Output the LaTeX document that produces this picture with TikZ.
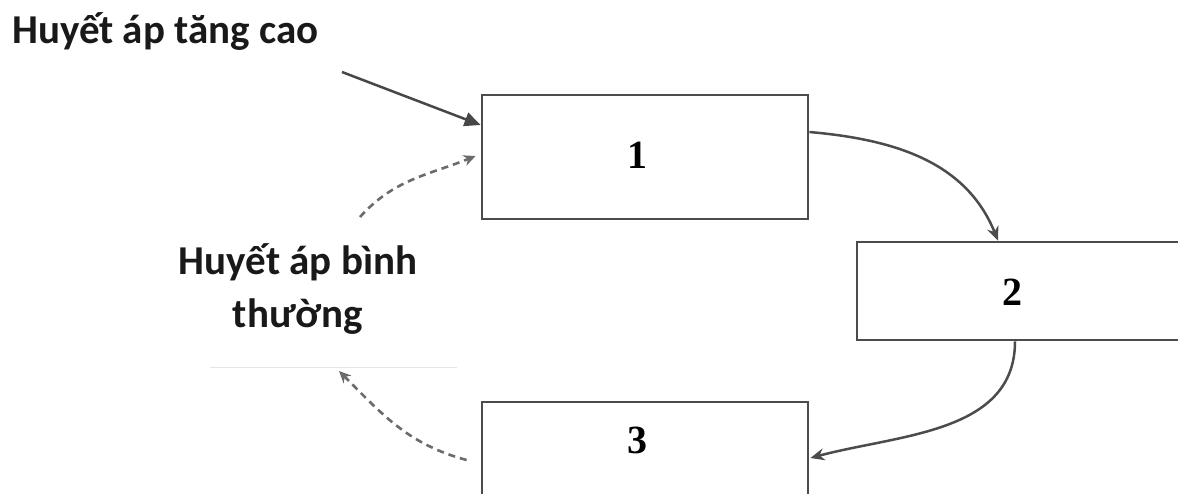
\documentclass[tikz,border=0pt]{standalone}
\usepackage{fontspec}
\setmainfont{Carlito}
\newfontfamily\numfont{Liberation Serif}
\usetikzlibrary{arrows.meta}
\tikzset{
  box/.style={draw=black!70, line width=2.8pt, fill=white, inner sep=0pt},
  num/.style={font=\numfont\bfseries\fontsize{40}{40}\selectfont, inner sep=0pt, anchor=base},
  lbl/.style={font=\bfseries\fontsize{41}{41}\selectfont, inner sep=0pt, anchor=base, text=black!90},
  flow/.style={draw=black!70, line width=2.5pt, -{Stealth[length=14pt,width=12pt]}},
  feed/.style={draw=black!58, line width=2.6pt, dash pattern=on 7pt off 5pt, -{Stealth[length=12pt,width=11pt]}},
  push/.style={draw=black!72, line width=2.5pt, -{Triangle[length=16pt,width=14pt]}}
}
\begin{document}
\begin{tikzpicture}[x=1pt,y=-1pt]
\useasboundingbox (0,0) rectangle (1178,493);
\clip (0,0) rectangle (1178,493);
\fill[white] (0,0) rectangle (1178,493);

% the three stages
\node[box, minimum width=326pt, minimum height=124pt] (b1) at (645,157) {};
\node[box, minimum width=333pt, minimum height=98pt] (b2) at (1023.5,291) {};
\node[box, minimum width=326pt, minimum height=103pt] (b3) at (645,453.5) {};
\node[num] (n1) at (637,168) {1};
\node[num] (n2) at (1012,305) {2};
\node[num] (n3) at (637,453) {3};

% labels
\node[lbl, anchor=base west] (hi) at (12,43) {Huyết áp tăng cao};
\node[lbl] (nm1) at (298,274) {Huyết áp bình};
\node[lbl] (nm2) at (298,327) {thường};
\draw[black!10, line width=1pt] (210,367) coordinate (ul) -- (457,367) coordinate (ur);

% connectors
\coordinate (src) at (342,72);
\draw[push] (src) -- ([yshift=32pt]b1.west);
\draw[flow] ([yshift=25pt]b1.east) to[out=-5, in=112] ([xshift=-25.5pt]b2.north);
\draw[flow] ([xshift=-8.5pt]b2.south) to[out=-90, in=15] ([yshift=-4.5pt,xshift=1pt]b3.east);

\coordinate (dtop) at (360,217);
\coordinate (dbot) at (339,371);
\draw[feed] (dtop) to[out=48, in=-158] ([xshift=-5pt,yshift=1pt]b1.west);
\draw[feed] ([xshift=-14pt,yshift=-6.5pt]b3.west) to[out=165, in=-45] (dbot);
\end{tikzpicture}
\end{document}
